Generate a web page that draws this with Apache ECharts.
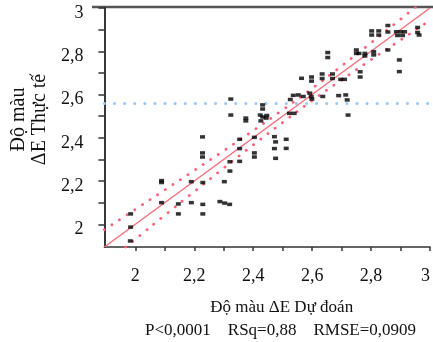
<!DOCTYPE html>
<html>
<head>
<meta charset="utf-8">
<script src="https://cdn.jsdelivr.net/npm/echarts@6/dist/echarts.min.js"></script>
<style>
  html, body { margin: 0; padding: 0; background: #ffffff; }
  #chart { width: 433px; height: 342px; }
</style>
</head>
<body>
<div id="chart"></div>
<script>
// Actual vs predicted colour difference (ΔE)
const predicted = [
  1.984, 1.984, 1.983, 2.089, 2.089, 2.089, 2.146, 2.146, 2.190, 2.190,
  2.229, 2.229, 2.229, 2.228, 2.228, 2.228, 2.287, 2.303, 2.320, 2.302,
  2.321, 2.321, 2.324, 2.324, 2.354, 2.354, 2.354, 2.375, 2.375, 2.404,
  2.404, 2.404, 2.432, 2.432, 2.424, 2.446, 2.432, 2.444, 2.426, 2.472,
  2.476, 2.472, 2.476, 2.512, 2.512, 2.526, 2.523, 2.539, 2.536, 2.553,
  2.570, 2.564, 2.598, 2.598, 2.592, 2.597, 2.599, 2.636, 2.634, 2.634,
  2.669, 2.669, 2.697, 2.710, 2.653, 2.653, 2.690, 2.714, 2.719, 2.722,
  2.750, 2.750, 2.759, 2.779, 2.779, 2.763, 2.763, 2.809, 2.809, 2.802,
  2.802, 2.826, 2.826, 2.857, 2.857, 2.857, 2.896, 2.896, 2.886, 2.901,
  2.914, 2.890, 2.907, 2.958, 2.958, 2.963
];
const actual = [
  2.048, 1.987, 1.923, 2.202, 2.193, 2.100, 2.094, 2.048, 2.197, 2.100,
  2.193, 2.092, 2.048, 2.404, 2.330, 2.311, 2.105, 2.098, 2.092, 2.197,
  2.289, 2.246, 2.579, 2.505, 2.393, 2.350, 2.291, 2.491, 2.478, 2.402,
  2.330, 2.311, 2.552, 2.533, 2.505, 2.503, 2.496, 2.491, 2.478, 2.405,
  2.381, 2.350, 2.305, 2.393, 2.351, 2.577, 2.513, 2.513, 2.596, 2.598,
  2.591, 2.675, 2.681, 2.662, 2.606, 2.590, 2.579, 2.591, 2.695, 2.674,
  2.695, 2.674, 2.670, 2.670, 2.794, 2.771, 2.595, 2.598, 2.575, 2.505,
  2.806, 2.790, 2.790, 2.790, 2.778, 2.705, 2.681, 2.798, 2.783, 2.894,
  2.875, 2.894, 2.875, 2.919, 2.889, 2.806, 2.760, 2.706, 2.890, 2.890,
  2.890, 2.873, 2.873, 2.910, 2.887, 2.875
];

// Mean of the actual values
const meanActual = 2.556;

// Fitted line and its confidence curves
const fitX = [1.895, 3.0];
const fitY = [1.895, 3.0];
const bandX     = [1.895, 2.0, 2.1, 2.2, 2.3, 2.4, 2.5, 2.6, 2.7, 2.8, 2.9, 3.0];
const bandUpper = [1.975, 2.069, 2.159, 2.249, 2.340, 2.433, 2.529, 2.628, 2.732, 2.839, 2.948, 3.057];
const bandLower = [1.815, 1.931, 2.042, 2.151, 2.260, 2.367, 2.471, 2.572, 2.668, 2.761, 2.852, 2.943];

// Axis ticks and labels
const tickValues = [2.0, 2.1, 2.2, 2.3, 2.4, 2.5, 2.6, 2.7, 2.8, 2.9, 3.0];
const labelValues = [2.0, 2.2, 2.4, 2.6, 2.8, 3.0];
const axisMin = 1.895;
const axisMax = 3.0;

const xTitle = 'Độ màu ΔE Dự đoán';
const yTitle = 'Độ màu\nΔE Thực tế';
const statsText = 'P<0,0001    RSq=0,88    RMSE=0,0909';

const SERIF = "'Liberation Serif', 'Times New Roman', serif";

const fmt = v => String(Math.round(v * 10) / 10).replace('.', ',');
const zip = (a, b) => a.map((v, i) => [v, b[i]]);

const chart = echarts.init(document.getElementById('chart'), null, { renderer: 'canvas' });

chart.setOption({
  animation: false,
  backgroundColor: '#ffffff',
  grid: { left: 100, right: 0, top: 8, bottom: 95 },
  xAxis: {
    type: 'value',
    min: axisMin,
    max: axisMax,
    name: xTitle,
    nameLocation: 'middle',
    nameGap: 52,
    nameTextStyle: { fontFamily: SERIF, fontSize: 17, color: '#111', padding: [0, 0, 0, 29] },
    axisLine: { show: true, lineStyle: { color: '#333', width: 1.5 } },
    axisTick: { show: true, inside: false, length: 4, customValues: tickValues, lineStyle: { color: '#333', width: 1.5 } },
    axisLabel: {
      customValues: labelValues,
      formatter: fmt,
      margin: 20,
      alignMaxLabel: 'right',
      fontFamily: SERIF, fontSize: 18, color: '#111'
    },
    splitLine: { show: false }
  },
  yAxis: {
    type: 'value',
    min: axisMin,
    max: axisMax,
    name: yTitle,
    nameLocation: 'middle',
    nameRotate: 90,
    nameGap: 42,
    nameTextStyle: { fontFamily: SERIF, fontSize: 20, lineHeight: 21, color: '#111', padding: [0, 0, 0, 16] },
    axisLine: { show: true, lineStyle: { color: '#222', width: 1.8 } },
    axisTick: { show: true, inside: false, length: 6, customValues: tickValues, lineStyle: { color: '#333', width: 1.5 } },
    axisLabel: {
      customValues: labelValues,
      formatter: fmt,
      margin: 21,
      verticalAlign: 'top',
      lineHeight: 10,
      fontFamily: SERIF, fontSize: 18, color: '#111'
    },
    splitLine: { show: false }
  },
  graphic: [
    {
      type: 'line',
      shape: { x1: 92, y1: 7, x2: 433, y2: 7 },
      style: { stroke: '#555', lineWidth: 2.5 }
    },
    {
      type: 'text',
      left: 145,
      top: 322,
      style: { text: statsText, fontFamily: SERIF, fontSize: 17, fill: '#111' }
    }
  ],
  series: [
    {
      type: 'line',
      data: zip(bandX, bandUpper),
      smooth: true,
      symbol: 'none',
      clip: true,
      lineStyle: { color: '#ff6078', width: 2.8, type: [0.1, 9], cap: 'round' },
      z: 3
    },
    {
      type: 'line',
      data: zip(bandX, bandLower),
      smooth: true,
      symbol: 'none',
      clip: true,
      lineStyle: { color: '#ff6078', width: 2.8, type: [0.1, 9], cap: 'round' },
      z: 3
    },
    {
      type: 'line',
      data: zip(fitX, fitY),
      symbol: 'none',
      clip: true,
      lineStyle: { color: '#f2707c', width: 1.5 },
      z: 4
    },
    {
      type: 'scatter',
      data: zip(predicted, actual),
      symbol: 'rect',
      symbolSize: [5, 3.5],
      itemStyle: { color: '#000000' },
      z: 5,
      markLine: {
        silent: true,
        symbol: ['none', 'none'],
        label: { show: false },
        lineStyle: { color: '#9cc6f5', width: 3, type: [0.1, 10], cap: 'round' },
        data: [{ yAxis: meanActual }]
      }
    }
  ]
});
</script>
</body>
</html>
